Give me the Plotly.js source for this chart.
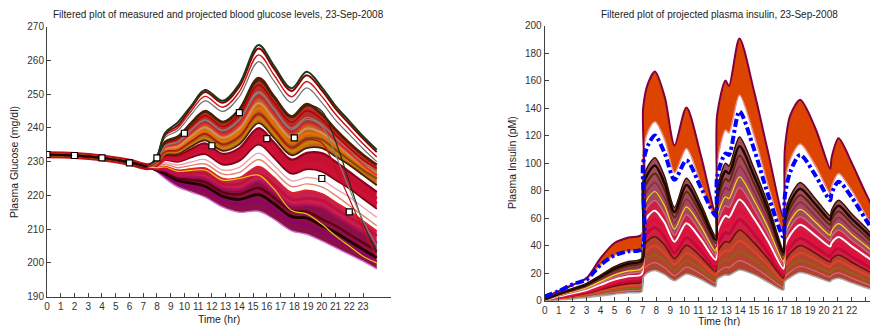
<!DOCTYPE html>
<html>
<head>
<meta charset="utf-8">
<script src="https://cdn.plot.ly/plotly-3.0.1.min.js"></script>
<style>html,body{margin:0;padding:0;background:#fff;}#chart{width:870px;height:326px;}</style>
</head>
<body>
<div id="chart"></div>
<script>
// ---------- Glucose panel data ----------
const GLU_T = [0, 2, 4, 6, 7.3, 8, 8.6, 9.5, 10.5, 11.5, 12.8, 14, 15.4, 16.5, 17.8, 18.9, 20, 21, 22, 23, 24];
const GLU_PRE = [232, 231.8, 231.1, 229.8, 228.5];
// values after 7.3 h for each projected member (t = 8 ... 24)
const GLU_MEMBERS = [
  [227, 225, 222.5, 221, 219.5, 216.5, 215, 215.3, 213, 209.5, 208.5, 206.5, 204.5, 202.5, 200.5, 198.2],
  [227.3, 225.8, 223.6, 222.5, 221.4, 218.4, 217.3, 218.3, 215.7, 212.0, 211.4, 209.2, 207, 204.9, 202.7, 200.3],
  [227.5, 226.4, 224.4, 223.6, 222.7, 219.7, 218.8, 220.2, 217.6, 213.7, 213.3, 211, 209, 206.5, 204, 201.5],
  [227.6, 226.9, 225.1, 224.6, 223.9, 220.9, 220.3, 222.2, 219.4, 215.4, 215.2, 213, 211, 208.5, 206, 203.5],
  [227.8, 227.4, 225.8, 225.6, 225.2, 222.2, 221.8, 224.2, 221.2, 217.1, 217.2, 216.5, 214, 211.5, 209, 206],
  [228.0, 228.0, 226.6, 226.6, 226.5, 223.4, 223.4, 226.1, 223.1, 218.8, 219.1, 218.5, 216, 213.5, 211, 208],
  [228.2, 228.6, 227.5, 227.9, 228.1, 225.0, 225.3, 228.6, 225.4, 220.9, 221.5, 220.5, 218, 215.5, 212.5, 209.5],
  [228.4, 229.2, 228.2, 228.9, 229.3, 226.3, 226.8, 230.6, 227.2, 222.6, 223.4, 222.5, 220, 217, 214, 211],
  [228.6, 229.7, 229.0, 229.9, 230.6, 227.5, 228.3, 232.5, 229.0, 224.3, 225.3, 224.5, 222, 219.5, 216.5, 213.5],
  [228.8, 230.4, 229.9, 231.2, 232.2, 229.1, 230.2, 235.0, 231.2, 226.4, 227.7, 227, 224.5, 222, 219, 216],
  [228.9, 230.8, 230.5, 232.0, 233.1, 230.0, 231.3, 236.5, 232.5, 227.6, 229.2, 228.5, 226, 223.5, 220.5, 217.5],
  [229.1, 231.2, 231.0, 232.7, 234.1, 231.0, 232.5, 237.9, 234.0, 228.9, 230.6, 230.5, 228, 225, 222, 219],
  [229.3, 231.8, 231.8, 233.75, 235.4, 232.3, 234.0, 239.9, 235.8, 230.6, 232.6, 232.5, 230, 227, 224, 221],
  [229.4, 232.2, 232.3, 234.5, 236.3, 233.2, 235.1, 241.4, 237.1, 231.9, 234.0, 234, 231.5, 229, 226, 223],
  [229.5, 232.6, 232.9, 235.3, 237.3, 234.1, 236.3, 242.9, 238.5, 233.1, 235.4, 235.5, 233, 230, 227.5, 225],
  [229.6, 232.8, 233.1, 235.6, 237.7, 234.6, 236.8, 243.6, 239.1, 233.8, 236.2, 237, 235, 232.5, 230, 228],
  [229.7, 233.0, 233.4, 236.0, 238.2, 235.1, 237.4, 244.3, 239.8, 234.4, 236.9, 236.5, 233.5, 230.5, 227.5, 225],
  [229.8, 233.4, 234.0, 236.8, 239.2, 236.0, 238.6, 245.8, 241.2, 235.7, 238.3, 237.5, 234.5, 231.5, 228.5, 226],
  [229.9, 233.8, 234.5, 237.6, 240.1, 237.0, 239.7, 247.3, 242.6, 236.9, 239.8, 238.5, 235.5, 232, 229, 226.5],
  [230.1, 234.2, 235.1, 238.3, 241.1, 237.9, 240.8, 248.8, 243.9, 238.2, 241.2, 239.5, 236, 232.5, 229, 226],
  [230.2, 234.7, 235.8, 239.4, 242.3, 239.2, 242.4, 250.7, 245.8, 239.9, 243.1, 241, 237, 233.5, 230, 227],
  [230.4, 235.3, 236.6, 240.4, 243.6, 240.4, 243.9, 252.7, 247.6, 241.6, 245.1, 242.5, 238, 234, 230.5, 228],
  [230.6, 235.8, 237.3, 241.4, 244.9, 241.7, 245.4, 254.7, 249.4, 243.3, 247.0, 244, 239.5, 235.5, 232, 229],
  [231.05, 237.15, 239.15, 243.95, 248.0, 244.85, 249.2, 259.6, 254.0, 247.5, 251.8, 247.45, 242.3, 238.05, 233.8, 230.0],
  [231.2, 237.7, 239.9, 245.0, 249.3, 246.1, 250.7, 261.6, 255.8, 249.2, 253.7, 249.3, 244.0, 239.6, 235.3, 231.4],
  [231.4, 238.2, 240.6, 246.0, 250.6, 247.4, 252.2, 263.5, 257.6, 250.9, 255.6, 251.1, 245.7, 241.2, 236.8, 232.8],
  [231.5, 238.5, 241.5, 246.5, 251.2, 248, 253, 264.5, 258.5, 251.7, 256.6, 252, 246.5, 242, 237.5, 233.5],
  [228.2, 228.4, 227.1, 227.4, 227.5, 224.5, 225.0, 226, 222, 215.5, 214.5, 211.5, 208, 205, 202, 200],
  [230.6, 235.8, 237.3, 241.4, 244.9, 241.7, 245.4, 254.0, 249.0, 243.0, 246.5, 245, 236, 224, 212, 203],
  [230.2, 234.7, 235.8, 239.4, 242.3, 239.2, 242.4, 250.2, 245.5, 239.5, 242.5, 240.5, 232, 222, 212.5, 205],
  [229.7, 233.0, 233.4, 236.0, 238.2, 235.1, 237.4, 244, 239.5, 234, 236.5, 235.5, 228, 219, 210, 202]
];
const GLU_STYLE = [
  ['#d070d0', 1.4], ['#900070', 2.4], ['#200000', 2.8], ['#600010', 2.4], ['#b0105a', 2.4],
  ['#c01040', 2.8], ['#e02020', 1.4], ['#e88070', 1.4], ['#f0a0b0', 1.4], ['#7a0010', 1.6],
  ['#d0103a', 3.2], ['#c8102e', 3.2], ['#900020', 2.2], ['#4a2000', 1.8], ['#c88000', 2.8],
  ['#b06020', 1.8], ['#8b4513', 2.2], ['#e07000', 2.8], ['#d09060', 2.2], ['#e03030', 1.8],
  ['#b07070', 1.4], ['#c00000', 1.6], ['#5a1a00', 2.8], ['#707070', 1.2], ['#d01010', 1.4],
  ['#8b0000', 2], ['#1a3a1a', 2], ['#e0d000', 1.2], ['#203010', 1.2], ['#808080', 1.2], ['#c01010', 1.2]
];
// shaded bundles between member pairs (lower index, upper index, colour)
const GLU_BANDS = [[0, 4, '#8c1048'], [4, 6, '#c8204c'], [9, 12, '#c41234'], [13, 19, '#c0661c'], [19, 22, '#b0302a']];
const GLU_MEAS_T = [0, 2, 4, 6, 8, 10, 12, 14, 16, 18, 20, 22];
const GLU_MEAS = [232.1, 231.8, 231.1, 229.6, 231.1, 238.4, 234.7, 244.5, 236.8, 237, 225, 215.1];
const GLU_YTICKS = [190, 200, 210, 220, 230, 240, 250, 260, 270];

// ---------- Insulin panel data ----------
const INS_T = [0, 1, 2, 3, 4, 5, 6, 6.95, 7.05, 7.4, 7.9, 8.6, 9.3, 10.15, 11.2, 12.25, 12.35, 12.95, 13.2, 13.95, 15, 16, 17.1, 17.2, 17.6, 18.3, 19.4, 20.45, 20.55, 21.05, 22, 23, 24];
const INS_TOP = [2.5, 7, 11.5, 16.5, 31, 42, 46, 48, 140, 158, 166.5, 148, 113, 140.5, 105, 64, 135, 160, 156, 190.5, 152, 108, 61, 110, 135, 146, 125, 96, 104, 118, 100, 78, 58];
const INS_ORANGE_LOW = [3, 7, 12, 15.5, 26, 33, 36, 37.5, 108, 123, 130, 117, 93, 110.7, 85, 60, 100, 124, 122, 149.4, 120, 84, 50, 85, 103, 114, 98, 78, 83, 92.5, 80, 62, 46];
const INS_BLUE = [3, 7, 12, 15.5, 26, 33, 36, 37.5, 100, 113, 120, 107, 88, 102, 82, 62, 90, 107, 106, 137.5, 110, 77, 46.5, 76, 94, 106, 91, 73, 78, 86.5, 75, 59, 44];
const INS_DTOP = [1, 5.4, 9, 12.7, 18.7, 24.8, 28.5, 30.8, 88, 98, 104, 90, 68, 89, 70, 47, 80, 100, 98, 119, 96, 70, 37, 62, 76, 86, 74, 62, 66, 73, 63, 53, 42];
const INS_DBOT = [0, 0.5, 1.3, 2.3, 3.5, 4.8, 5.8, 6.6, 17, 20.5, 22, 19, 14.6, 19.5, 15.5, 10.3, 15.5, 18.7, 18.5, 22.4, 19, 13.5, 7.8, 14, 17, 20.5, 17.5, 13.9, 15, 16.3, 13, 9.5, 6.5];
const INS_M93 = [0.9, 5.1, 8.5, 12.0, 17.6, 23.4, 26.9, 29.1, 83, 92.6, 98.3, 85, 64.3, 84.1, 66.2, 44.4, 75.5, 94.3, 92.4, 112.2, 90.6, 66, 35, 58.6, 71.9, 81.4, 70, 58.6, 62.4, 69, 59.5, 50, 39.5];
const INS_M86 = [0.86, 4.7, 7.9, 11.2, 16.6, 22, 25.3, 27.4, 78.1, 87.2, 92.5, 80.1, 60.5, 79.3, 62.4, 41.9, 71, 88.6, 86.9, 105.5, 85.2, 62.1, 32.9, 55.3, 67.7, 76.8, 66.1, 55.3, 58.9, 65.1, 56, 46.9, 37];
const INS_M78 = [0.78, 4.3, 7.3, 10.4, 15.4, 20.4, 23.5, 25.5, 72.4, 81, 86, 74.4, 56.3, 73.7, 58, 38.9, 65.8, 82.1, 80.5, 97.7, 79.1, 57.6, 30.6, 51.4, 63, 71.6, 61.6, 51.4, 54.8, 60.5, 52, 43.4, 34.2];
const INS_M70 = [0.7, 3.9, 6.7, 9.6, 14.1, 18.8, 21.7, 23.5, 66.7, 74.8, 79.4, 68.7, 52, 68.2, 53.7, 36, 60.7, 75.6, 74.2, 90, 72.9, 53.1, 28.2, 47.6, 58.3, 66.4, 57.1, 47.6, 50.7, 56, 48, 40, 31.4];
const INS_M62 = [0.6, 3.5, 6.1, 8.7, 12.9, 17.2, 19.9, 21.6, 61, 68.6, 72.8, 63, 47.7, 62.6, 49.3, 33.1, 55.5, 69.1, 67.8, 82.3, 66.7, 48.5, 25.9, 43.8, 53.6, 61.1, 52.5, 43.7, 46.6, 51.5, 44, 36.5, 28.5];
const INS_M53 = [0.5, 3.1, 5.4, 7.8, 11.6, 15.4, 17.8, 19.4, 54.6, 61.6, 65.5, 56.6, 42.9, 56.3, 44.4, 29.8, 49.7, 61.8, 60.6, 73.6, 59.8, 43.4, 23.3, 39.4, 48.3, 55.2, 47.4, 39.4, 42, 46.3, 39.5, 32.5, 25.3];
const INS_M45 = [0.45, 2.7, 4.8, 7, 10.3, 13.8, 16, 17.5, 49, 55.4, 58.9, 51, 38.6, 50.8, 40, 26.8, 44.5, 55.3, 54.3, 65.9, 53.7, 38.9, 20.9, 35.6, 43.6, 50, 42.9, 35.5, 38, 41.8, 35.5, 29.1, 22.5];
const INS_M38 = [0.4, 2.4, 4.2, 6.3, 9.3, 12.4, 14.4, 15.8, 44, 50, 53.2, 46, 34.9, 45.9, 36.2, 24.2, 40, 49.6, 48.7, 59.1, 48.3, 35, 18.9, 32.2, 39.4, 45.4, 39, 32.2, 34.4, 37.8, 32, 26, 20];
const INS_M30 = [0.3, 2, 3.6, 5.4, 8.1, 10.8, 12.6, 13.9, 38.3, 43.8, 46.6, 40.3, 30.6, 40.4, 31.9, 21.3, 34.9, 43.1, 42.4, 51.4, 42.1, 30.5, 16.6, 28.4, 34.7, 40.2, 34.5, 28.3, 30.3, 33.3, 28, 22.5, 17.2];
const INS_M22 = [0.2, 1.6, 3, 4.6, 6.8, 9.2, 10.8, 11.9, 32.6, 37.5, 40, 34.6, 26.3, 34.8, 27.5, 18.4, 29.7, 36.6, 36, 43.7, 35.9, 25.9, 14.2, 24.6, 30, 34.9, 29.9, 24.5, 26.2, 28.8, 24, 19.1, 14.3];
const INS_M14 = [0.14, 1.2, 2.4, 3.8, 5.6, 7.6, 9, 10, 26.9, 31.4, 33.5, 28.9, 22.1, 29.2, 23.1, 15.4, 24.5, 30.1, 29.6, 35.9, 29.8, 21.4, 11.9, 20.7, 25.3, 29.7, 25.4, 20.6, 22.1, 24.2, 20, 15.6, 11.5];
const INS_M07 = [0.07, 0.8, 1.8, 3, 4.6, 6.2, 7.4, 8.3, 22, 25.9, 27.7, 24, 18.3, 24.4, 19.3, 12.9, 20, 24.4, 24.1, 29.2, 24.4, 17.5, 9.8, 17.4, 21.1, 25.1, 21.5, 17.3, 18.6, 20.3, 16.5, 12.5, 9];
const INS_YTICKS = [0, 20, 40, 60, 80, 100, 120, 140, 160, 180, 200];
const X_TICKS = [0, 1, 2, 3, 4, 5, 6, 7, 8, 9, 10, 11, 12, 13, 14, 15, 16, 17, 18, 19, 20, 21, 22, 23];

// ---------- build traces ----------
const traces = [];
const FONT = 'Liberation Sans, Arial, Helvetica, sans-serif';
const gsp = {shape: 'spline', smoothing: 1};

// shaded bundles of the glucose ensemble
GLU_BANDS.forEach(b => {
  traces.push({x: GLU_T, y: GLU_PRE.concat(GLU_MEMBERS[b[0]]), xaxis: 'x', yaxis: 'y', mode: 'lines',
    line: Object.assign({color: 'rgba(0,0,0,0)', width: 0}, gsp), hoverinfo: 'skip'});
  traces.push({x: GLU_T, y: GLU_PRE.concat(GLU_MEMBERS[b[1]]), xaxis: 'x', yaxis: 'y', mode: 'lines',
    line: Object.assign({color: 'rgba(0,0,0,0)', width: 0}, gsp), fill: 'tonexty', fillcolor: b[2], hoverinfo: 'skip'});
});
// early common segment (thick band)
traces.push({x: GLU_T.slice(0, 6), y: GLU_PRE.concat([GLU_MEMBERS[12][0]]), xaxis: 'x', yaxis: 'y',
  mode: 'lines', line: {color: '#c01010', width: 7, shape: 'spline'}, hoverinfo: 'skip'});
GLU_MEMBERS.forEach((m, i) => {
  traces.push({x: GLU_T, y: GLU_PRE.concat(m), xaxis: 'x', yaxis: 'y', mode: 'lines',
    line: Object.assign({color: GLU_STYLE[i][0], width: GLU_STYLE[i][1]}, gsp), hoverinfo: 'skip'});
});
traces.push({x: GLU_T.slice(0, 5), y: GLU_PRE, xaxis: 'x', yaxis: 'y', mode: 'lines',
  line: {color: '#200000', width: 2, shape: 'spline'}, hoverinfo: 'skip'});
traces.push({x: GLU_MEAS_T, y: GLU_MEAS, xaxis: 'x', yaxis: 'y', mode: 'markers',
  marker: {symbol: 'square', size: 6, color: '#ffffff', line: {color: '#000000', width: 1.2}}});

// insulin fills
const sp = {shape: 'spline', smoothing: 0.8};
function ins(y, color, width, extra) {
  return Object.assign({x: INS_T, y: y, xaxis: 'x2', yaxis: 'y2', mode: 'lines',
    line: Object.assign({color: color, width: width}, sp), hoverinfo: 'skip'}, extra || {});
}
traces.push(ins(INS_DBOT, 'rgba(0,0,0,0)', 0));
traces.push(ins(INS_M30, 'rgba(0,0,0,0)', 0, {fill: 'tonexty', fillcolor: '#b5412f'}));
traces.push(ins(INS_M62, 'rgba(0,0,0,0)', 0, {fill: 'tonexty', fillcolor: '#cf1f45'}));
traces.push(ins(INS_DTOP, 'rgba(0,0,0,0)', 0, {fill: 'tonexty', fillcolor: '#a34a5e'}));
traces.push(ins(INS_ORANGE_LOW, '#e89090', 1.5));
traces.push(ins(INS_TOP, '#800040', 2, {fill: 'tonexty', fillcolor: '#dd4400'}));
// ensemble member lines
const INS_LINES = [
  [INS_M07, '#c87080', 1.2], [INS_M14, '#8a6a10', 1.5], [INS_M22, '#e04428', 2], [INS_M30, '#6a1008', 1.5],
  [INS_M38, '#c40838', 3], [INS_M45, '#e0103c', 3.5], [INS_M53, '#ffffff', 2], [INS_M62, '#c86878', 1.5],
  [INS_M70, '#f0e010', 1.2], [INS_M78, '#8a2848', 1.5], [INS_M86, '#5c2a08', 2], [INS_M93, '#1a0800', 2.5],
  [INS_DTOP, '#3a1000', 1.5], [INS_DBOT, '#a8a8a8', 1.5]
];
INS_LINES.forEach(l => traces.push(ins(l[0], l[1], l[2])));
traces.push(ins(INS_BLUE, '#0000ff', 4, {line: Object.assign({color: '#0000ff', width: 4, dash: '8px,3px,3px,3px'}, sp)}));

const axisCommon = {
  ticks: 'inside', ticklen: 4, tickwidth: 1, tickcolor: '#404040',
  showline: true, linecolor: '#404040', linewidth: 1,
  showgrid: false, zeroline: false, mirror: false, automargin: false,
  tickfont: {family: FONT, size: 10, color: '#333333'}
};
function label(text, px, py, angle) {
  return {text: text, xref: 'paper', yref: 'paper', x: px / 870, y: (326 - py) / 326,
    xanchor: 'center', yanchor: 'middle', showarrow: false, textangle: angle || 0,
    font: {family: FONT, size: 10.5, color: '#222'}};
}
const layout = {
  width: 870, height: 326,
  margin: {l: 0, r: 0, t: 0, b: 0},
  paper_bgcolor: '#ffffff', plot_bgcolor: '#ffffff',
  showlegend: false,
  font: {family: FONT, color: '#222222'},
  xaxis: Object.assign({}, axisCommon, {domain: [47 / 870, 390.5 / 870], range: [0, 25], tickvals: X_TICKS, anchor: 'y'}),
  yaxis: Object.assign({}, axisCommon, {domain: [(326 - 296.7) / 326, (326 - 26.5) / 326], range: [190, 270],
    tickvals: GLU_YTICKS, anchor: 'x'}),
  xaxis2: Object.assign({}, axisCommon, {domain: [544.7 / 870, 1], range: [0, 23.3], tickvals: X_TICKS, anchor: 'y2'}),
  yaxis2: Object.assign({}, axisCommon, {domain: [(326 - 300.8) / 326, (326 - 25.5) / 326], range: [0, 200],
    tickvals: INS_YTICKS, anchor: 'x2'}),
  annotations: [
    Object.assign(label('Filtered plot of measured and projected blood glucose levels, 23-Sep-2008', 218.5, 14.5), {font: {family: FONT, size: 10, color: '#222'}}),
    Object.assign(label('Filtered plot of projected plasma insulin, 23-Sep-2008', 719, 14.5), {font: {family: FONT, size: 10, color: '#222'}}),
    label('Time (hr)', 218.5, 319),
    label('Time (hr)', 719, 320.5),
    label('Plasma Glucose (mg/dl)', 14, 162, -90),
    label('Plasma Insulin (pM)', 512, 163, -90)
  ]
};
Plotly.newPlot('chart', traces, layout, {staticPlot: true, displayModeBar: false});
</script>
</body>
</html>
